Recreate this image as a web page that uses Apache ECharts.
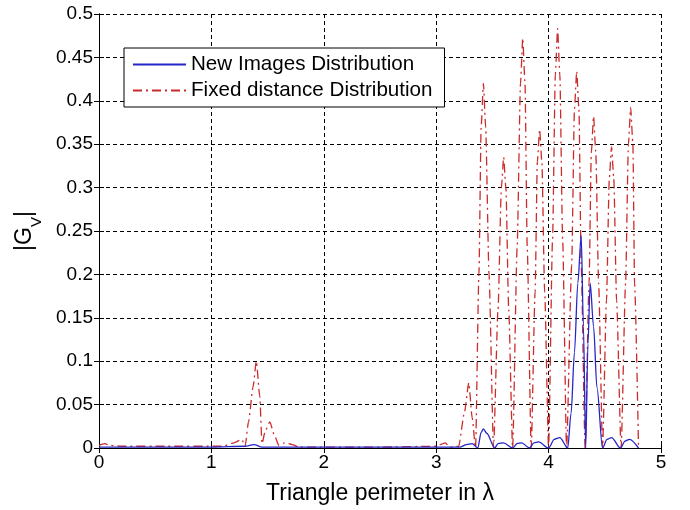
<!DOCTYPE html>
<html>
<head>
<meta charset="utf-8">
<script src="https://cdn.jsdelivr.net/npm/echarts@6/dist/echarts.min.js"></script>
<style>html,body{margin:0;padding:0;background:#fff}#c{width:690px;height:510px}</style>
</head>
<body>
<div id="c"></div>
<script>
// ---- data ----
var xTicks = [0, 1, 2, 3, 4, 5];
var yTicks = [0, 0.05, 0.1, 0.15, 0.2, 0.25, 0.3, 0.35, 0.4, 0.45, 0.5];
var seriesNames = ['New Images Distribution', 'Fixed distance Distribution'];

// New Images Distribution  [perimeter (lambda), |Gv|]
var newImages = [
  [0, 0.001], [0.5, 0.001], [1.0, 0.001], [1.3, 0.002], [1.38, 0.004], [1.45, 0.001],
  [2.0, 0.001], [3.0, 0.001], [3.21, 0.001], [3.27, 0.004], [3.32, 0.005], [3.37, 0.0],
  [3.40, 0.018], [3.42, 0.022], [3.45, 0.017], [3.52, 0.0], [3.55, 0.005], [3.60, 0.006],
  [3.68, 0.0], [3.72, 0.005], [3.76, 0.006], [3.83, 0.0], [3.87, 0.006], [3.91, 0.007],
  [4.0, 0.0], [4.05, 0.010], [4.10, 0.012], [4.17, 0.0], [4.20, 0.04], [4.23, 0.11],
  [4.26, 0.19], [4.29, 0.245], [4.31, 0.14], [4.33, 0.0], [4.35, 0.12], [4.37, 0.19],
  [4.40, 0.14], [4.43, 0.07], [4.48, 0.0], [4.52, 0.010], [4.56, 0.012], [4.64, 0.0],
  [4.68, 0.008], [4.72, 0.010], [4.80, 0.0]
];

// Fixed distance Distribution  [perimeter (lambda), |Gv|]
var fixedDistance = [
  [0, 0.003], [0.05, 0.005], [0.1, 0.003], [0.2, 0.002], [0.6, 0.002], [1.1, 0.002],
  [1.2, 0.006], [1.27, 0.010], [1.30, 0.002], [1.33, 0.03], [1.37, 0.07], [1.40, 0.10],
  [1.43, 0.06], [1.45, 0.005], [1.48, 0.02], [1.52, 0.03], [1.56, 0.015], [1.60, 0.003],
  [1.65, 0.006], [1.72, 0.004], [1.78, 0.001], [2.5, 0.001], [3.0, 0.002], [3.08, 0.006],
  [3.12, 0.001], [3.20, 0.002], [3.25, 0.04], [3.29, 0.075], [3.32, 0.035], [3.35, 0.0],
  [3.38, 0.20], [3.40, 0.37], [3.42, 0.42], [3.44, 0.37], [3.47, 0.20], [3.51, 0.0],
  [3.55, 0.16], [3.58, 0.30], [3.60, 0.335], [3.62, 0.30], [3.645, 0.16], [3.68, 0.0],
  [3.72, 0.23], [3.75, 0.42], [3.77, 0.472], [3.79, 0.42], [3.81, 0.23], [3.845, 0.0],
  [3.88, 0.18], [3.90, 0.33], [3.92, 0.367], [3.94, 0.33], [3.965, 0.18], [4.0, 0.0],
  [4.035, 0.24], [4.06, 0.43], [4.08, 0.483], [4.10, 0.43], [4.125, 0.24], [4.16, 0.0],
  [4.205, 0.21], [4.23, 0.39], [4.25, 0.434], [4.27, 0.39], [4.29, 0.21], [4.325, 0.0],
  [4.36, 0.19], [4.38, 0.34], [4.40, 0.382], [4.42, 0.34], [4.445, 0.19], [4.48, 0.0],
  [4.515, 0.17], [4.54, 0.31], [4.56, 0.347], [4.58, 0.31], [4.605, 0.17], [4.645, 0.0],
  [4.685, 0.19], [4.71, 0.35], [4.73, 0.392], [4.75, 0.35], [4.765, 0.19], [4.80, 0.0]
];

// ---- chart ----
var FONT = '"Liberation Sans", Arial, sans-serif';
var chart = echarts.init(document.getElementById('c'), null, {renderer: 'canvas'});
var gridLine = {show: true, lineStyle: {color: '#000', width: 1, type: [4, 3]}};
var axisLine = {show: true, lineStyle: {color: '#000', width: 1}};
var tick = {show: true, inside: true, length: 5, lineStyle: {color: '#000'}};

chart.setOption({
  animation: false,
  backgroundColor: '#fff',
  grid: {left: 99, right: 29, top: 14, bottom: 59},
  legend: {
    data: seriesNames,
    orient: 'vertical',
    left: 124, top: 48,
    itemWidth: 53, itemHeight: 12, itemGap: 5,
    padding: [6, 12, 6, 8],
    borderColor: '#000', borderWidth: 1, borderRadius: 0,
    backgroundColor: '#fff',
    itemStyle: {opacity: 0},
    textStyle: {fontFamily: FONT, fontSize: 20.6, color: '#000', padding: [0, 0, 0, 0]}
  },
  xAxis: [{
    type: 'value', min: xTicks[0], max: xTicks[xTicks.length - 1], interval: 1,
    axisLine: axisLine, axisTick: tick, splitLine: gridLine,
    axisLabel: {fontFamily: FONT, fontSize: 19, color: '#000', margin: 5},
    name: 'Triangle perimeter in λ', nameLocation: 'middle', nameGap: 34,
    nameTextStyle: {fontFamily: FONT, fontSize: 23, color: '#000'}
  }, {
    type: 'value', position: 'top', min: xTicks[0], max: xTicks[xTicks.length - 1], interval: 1,
    axisLine: axisLine, axisTick: tick, splitLine: {show: false}, axisLabel: {show: false}
  }],
  yAxis: [{
    type: 'value', min: yTicks[0], max: yTicks[yTicks.length - 1], interval: 0.05,
    axisLine: axisLine, axisTick: tick, splitLine: gridLine,
    axisLabel: {fontFamily: FONT, fontSize: 19, color: '#000', margin: 6,
      formatter: function (v) { return String(+v.toFixed(2)); }},
    name: '{a||G}{b|V}{a||}', nameLocation: 'middle', nameGap: 61, nameRotate: 90,
    nameTextStyle: {
      fontFamily: FONT, color: '#000',
      rich: {
        a: {fontFamily: FONT, fontSize: 23, color: '#000', lineHeight: 26},
        b: {fontFamily: FONT, fontSize: 15, color: '#000', lineHeight: 15, verticalAlign: 'bottom', padding: [0, 0, -6, 0]}
      }
    }
  }, {
    type: 'value', position: 'right', min: yTicks[0], max: yTicks[yTicks.length - 1], interval: 0.05,
    axisLine: axisLine, axisTick: tick, splitLine: {show: false}, axisLabel: {show: false}
  }],
  series: [{
    name: seriesNames[0], type: 'line', data: newImages,
    showSymbol: false, symbol: 'none', smooth: 0.3, smoothMonotone: 'x',
    lineStyle: {color: '#2626c8', width: 1.3},
    itemStyle: {color: 'rgba(0,0,0,0)'}, z: 3
  }, {
    name: seriesNames[1], type: 'line', data: fixedDistance,
    showSymbol: false, symbol: 'none', smooth: 0.2, smoothMonotone: 'x',
    lineStyle: {color: '#cc2b2b', width: 1.3, type: [9, 4, 2, 4]},
    itemStyle: {color: 'rgba(0,0,0,0)'}, z: 2
  }]
});
</script>
</body>
</html>
